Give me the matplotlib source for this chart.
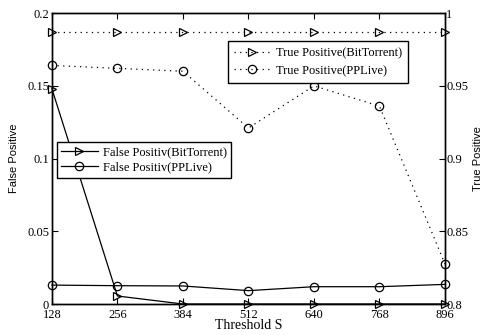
import matplotlib
matplotlib.use('Agg')
import matplotlib.pyplot as plt

###
### Data
###
thresholds  = [128, 256, 384, 512, 640, 768, 896]
fp_bt       = [0.148, 0.0055, 0.0, 0.0, 0.0, 0.0, 0.0]
fp_pplive   = [0.013, 0.0126, 0.0124, 0.0092, 0.0119, 0.0119, 0.0135]
tp_bt       = [0.987, 0.987, 0.987, 0.987, 0.987, 0.987, 0.987]
tp_pplive   = [0.964, 0.962, 0.960, 0.921, 0.950, 0.936, 0.8275]

serif = ['Liberation Serif', 'DejaVu Serif']
sans  = ['Liberation Sans', 'DejaVu Sans']

###
### Figure
###
fig = plt.figure(figsize=(4.85, 3.35), dpi=100)
ax1 = fig.add_axes([0.107, 0.0925, 0.8105, 0.8685])
ax2 = ax1.twinx()

mk = dict(markersize=6, markerfacecolor='none', markeredgecolor='black',
          markeredgewidth=0.9, color='black', clip_on=False)
dots = (0, (1, 3.5))

l1, = ax1.plot(thresholds, fp_bt, '>-', lw=0.9, label='False Positiv(BitTorrent)', **mk)
l2, = ax1.plot(thresholds, fp_pplive, 'o-', lw=0.9, label='False Positiv(PPLive)', **mk)
l3, = ax2.plot(thresholds, tp_bt, '>', ls=dots, lw=0.9, label='True Positive(BitTorrent)', **mk)
l4, = ax2.plot(thresholds, tp_pplive, 'o', ls=dots, lw=0.9, label='True Positive(PPLive)', **mk)

ax1.set_xlim(128, 896)
ax1.set_ylim(0, 0.2)
ax2.set_ylim(0.8, 1.0)
ax1.set_xticks(thresholds)
ax1.set_yticks([0, 0.05, 0.1, 0.15, 0.2])
ax1.set_yticklabels(['0', '0.05', '0.1', '0.15', '0.2'])
ax2.set_yticks([0.8, 0.85, 0.9, 0.95, 1.0])
ax2.set_yticklabels(['0.8', '0.85', '0.9', '0.95', '1'])

for ax in (ax1, ax2):
    for sp in ax.spines.values():
        sp.set_linewidth(1.0)
    ax.tick_params(direction='in', length=4, width=0.8, labelsize=9, pad=2)
    for lab in ax.get_xticklabels() + ax.get_yticklabels():
        lab.set_family(serif)
ax1.tick_params(axis='x', top=True, pad=3.5)
ax1.tick_params(axis='y', right=False)
ax2.tick_params(axis='y', left=False, pad=1)

ax1.set_xlabel('Threshold S', family=serif, fontsize=10, labelpad=-1)
ax1.set_ylabel('False Positive', family=sans, fontsize=8, labelpad=6)
ax2.set_ylabel('True Positive', family=sans, fontsize=8, labelpad=3)

leg_kw = dict(prop={'family': serif, 'size': 9}, frameon=True, fancybox=False,
              edgecolor='black', framealpha=1, handlelength=2.9,
              handletextpad=0.4, borderaxespad=0)
leg1 = ax2.legend([l3, l4], [l3.get_label(), l4.get_label()], loc='upper left',
                  bbox_to_anchor=(0.448, 0.904), borderpad=0.5, labelspacing=0.45,
                  **leg_kw)
leg1.get_frame().set_linewidth(1.0)
ax2.add_artist(leg1)
leg2 = ax2.legend([l1, l2], [l1.get_label(), l2.get_label()], loc='upper left',
                  bbox_to_anchor=(0.0127, 0.557), borderpad=0.35, labelspacing=0.25,
                  **leg_kw)
leg2.get_frame().set_linewidth(1.0)

plt.savefig('out.png', dpi=100)
